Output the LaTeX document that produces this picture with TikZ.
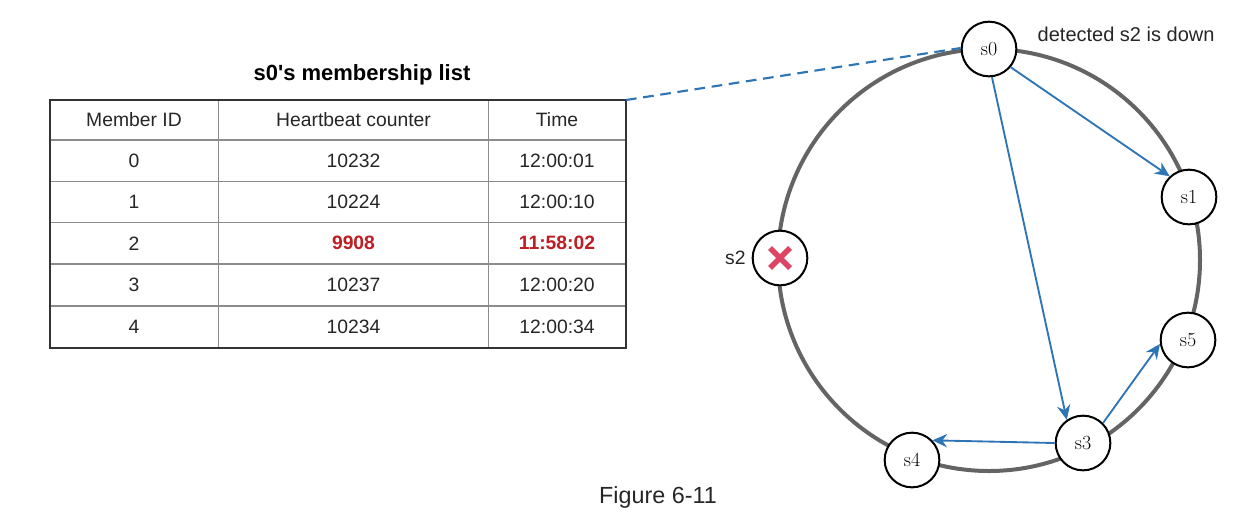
\documentclass[tikz,border=0pt]{standalone}
\usepackage{fontspec}
\setsansfont{Liberation Sans}
\usetikzlibrary{arrows.meta,positioning}
\definecolor{linkblue}{RGB}{46,117,182}
\definecolor{ringgray}{RGB}{100,100,100}
\definecolor{downred}{RGB}{190,30,35}
\definecolor{crossred}{RGB}{222,68,100}

\begin{document}
\begin{tikzpicture}[x=0.75pt,y=0.75pt,yscale=-1,xscale=1,
  server/.style={circle,draw=black,line width=1.5pt,fill=white,minimum size=41pt,inner sep=0pt,font=\fontsize{15}{17}\selectfont},
  cell/.style={text=black!85,font=\sffamily\fontsize{14.5}{17}\selectfont},
  hot/.style={text=downred,font=\sffamily\bfseries\fontsize{14.5}{17}\selectfont},
  gossip/.style={draw=linkblue,line width=1.4pt,-{Stealth[length=11pt,width=10pt]}},
  ring/.style={draw=ringgray,line width=3pt},
  grid/.style={draw=black!45,line width=0.8pt}]
  %set diagram to the size of the figure
  \useasboundingbox (0,0) rectangle (1252,526);

  % Title
  \node[font=\sffamily\bfseries\fontsize{16.5}{19}\selectfont] (title) at (362,75) {s0\textquotesingle s membership list};

  % Table lines
  \foreach \y in {140,181.5,222.5,264,306}
    \draw[grid] (50,\y) -- (626,\y);
  \foreach \x in {218.5,488.5}
    \draw[grid] (\x,100) -- (\x,348);
  \draw[black!80,line width=1.2pt] (50,100) rectangle (626,348);
  \coordinate (tablecorner) at (626,100);

  % Table text
  \node[cell] (head-id) at (134,120) {Member ID};
  \node[cell] (head-hb) at (353.5,120) {Heartbeat counter};
  \node[cell] (head-time) at (557,120) {Time};
  \foreach \id/\hb/\t/\y in {0/10232/12:00:01/160.75,1/10224/12:00:10/202,3/10237/12:00:20/285,4/10234/12:00:34/327}{
    \node[cell] (id-\id) at (134,\y) {\id};
    \node[cell] (hb-\id) at (353.5,\y) {\hb};
    \node[cell] (time-\id) at (557,\y) {\t};
  }
  \node[cell] (id-2) at (134,243.25) {2};
  \node[hot] (hb-2) at (353.5,243.25) {9908};
  \node[hot] (time-2) at (557,243.25) {11:58:02};

  % Ring
  \draw[ring] (989,260) circle [radius=158.25pt];

  % Servers
  \node[server] (s0) at (989,49) {s0};
  \node[server] (s1) at (1189,197) {s1};
  \node[server] (s2) at (780,258) {};
  \node[server] (s3) at (1083,443) {s3};
  \node[server] (s4) at (912,460) {s4};
  \node[server] (s5) at (1188,340) {s5};

  % down marker
  \draw[crossred,line width=4pt] ([shift={(-7.5pt,-7.5pt)}]s2.center) -- ([shift={(7.5pt,7.5pt)}]s2.center);
  \draw[crossred,line width=4pt] ([shift={(-7.5pt,7.5pt)}]s2.center) -- ([shift={(7.5pt,-7.5pt)}]s2.center);
  \node[cell,left=1pt of s2] (s2-label) {s2};

  % Text Node
  \node[cell,font=\sffamily\fontsize{15}{17}\selectfont,anchor=west] (note) at (1033,34) {detected s2 is down};

  % Links
  \draw[linkblue,line width=1.6pt,dash pattern=on 8pt off 5pt] (tablecorner) -- (s0.178);
  \draw[gossip] (s0.-40) -- (s1.133);
  \draw[gossip] (s0.-84) -- (s3.125);
  \draw[gossip] (s3.west) -- (s4.44);
  \draw[gossip] (s3.45) -- (s5.188);

  % Caption
  \node[cell,font=\sffamily\fontsize{17.5}{20}\selectfont] (caption) at (658,497) {Figure 6-11};
\end{tikzpicture}
\end{document}
